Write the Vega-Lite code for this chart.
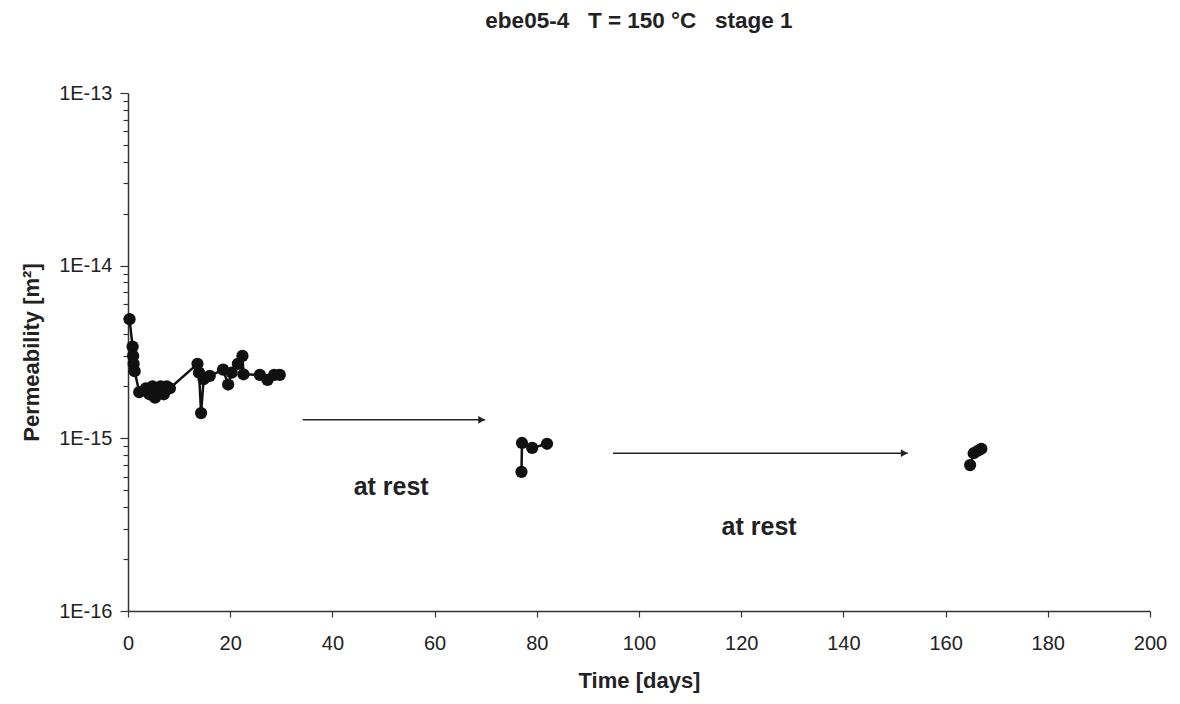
{
  "$schema": "https://vega.github.io/schema/vega-lite/v6.json",
  "autosize": {"type": "none"},
  "width": 1022,
  "height": 518,
  "padding": {"left": 128, "top": 93, "right": 30, "bottom": 93},
  "background": "white",
  "config": {
    "view": {"stroke": null},
    "font": "Liberation Sans",
    "axis": {
      "domainColor": "#333",
      "tickColor": "#333",
      "labelColor": "#222",
      "titleColor": "#222",
      "labelFont": "Liberation Sans",
      "titleFont": "Liberation Sans",
      "labelFontSize": 20,
      "titleFontSize": 22,
      "titleFontWeight": "bold",
      "grid": false,
      "domainWidth": 1.5,
      "tickWidth": 1.2
    }
  },
  "title": {
    "text": "ebe05-4\u00a0\u00a0\u00a0T = 150 °C\u00a0\u00a0\u00a0stage 1",
    "font": "Liberation Sans",
    "fontSize": 22.5,
    "fontWeight": "bold",
    "color": "#222",
    "anchor": "middle",
    "offset": 51
  },
  "datasets": {
    "perm": [
      {"day": 0.3, "k": 4.9e-15, "seg": "a"},
      {"day": 0.9, "k": 3.4e-15, "seg": "a"},
      {"day": 1.0, "k": 3.0e-15, "seg": "a"},
      {"day": 1.1, "k": 2.7e-15, "seg": "a"},
      {"day": 1.3, "k": 2.45e-15, "seg": "a"},
      {"day": 2.2, "k": 1.85e-15, "seg": "a"},
      {"day": 3.5, "k": 1.95e-15, "seg": "a"},
      {"day": 4.2, "k": 1.8e-15, "seg": "a"},
      {"day": 4.8, "k": 2.0e-15, "seg": "a"},
      {"day": 5.3, "k": 1.72e-15, "seg": "a"},
      {"day": 5.8, "k": 1.9e-15, "seg": "a"},
      {"day": 6.4, "k": 2.0e-15, "seg": "a"},
      {"day": 7.0, "k": 1.8e-15, "seg": "a"},
      {"day": 7.6, "k": 2.0e-15, "seg": "a"},
      {"day": 8.2, "k": 1.95e-15, "seg": "a"},
      {"day": 13.6, "k": 2.7e-15, "seg": "a"},
      {"day": 13.9, "k": 2.4e-15, "seg": "a"},
      {"day": 14.3, "k": 1.4e-15, "seg": "a"},
      {"day": 14.8, "k": 2.2e-15, "seg": "a"},
      {"day": 16.0, "k": 2.3e-15, "seg": "a"},
      {"day": 18.6, "k": 2.5e-15, "seg": "a"},
      {"day": 19.6, "k": 2.05e-15, "seg": "a"},
      {"day": 20.3, "k": 2.4e-15, "seg": "a"},
      {"day": 21.5, "k": 2.7e-15, "seg": "a"},
      {"day": 22.4, "k": 3.0e-15, "seg": "a"},
      {"day": 22.6, "k": 2.35e-15, "seg": "a"},
      {"day": 25.8, "k": 2.33e-15, "seg": "a"},
      {"day": 27.3, "k": 2.18e-15, "seg": "a"},
      {"day": 28.6, "k": 2.33e-15, "seg": "a"},
      {"day": 29.7, "k": 2.33e-15, "seg": "a"},
      {"day": 77.0, "k": 6.4e-16, "seg": "b"},
      {"day": 77.1, "k": 9.4e-16, "seg": "b"},
      {"day": 79.1, "k": 8.8e-16, "seg": "b"},
      {"day": 82.0, "k": 9.3e-16, "seg": "b"},
      {"day": 164.8, "k": 7.0e-16, "seg": "c"},
      {"day": 165.5, "k": 8.2e-16, "seg": "c"},
      {"day": 166.4, "k": 8.5e-16, "seg": "c"},
      {"day": 167.0, "k": 8.7e-16, "seg": "c"}
    ],
    "arrows": [
      {"start": 34.2, "end": 69.9, "head": 69.2, "k": 1.28e-15},
      {"start": 94.9, "end": 152.6, "head": 151.9, "k": 8.2e-16}
    ],
    "notes": [
      {"day": 51.5, "k": 5.2e-16, "label": "at rest"},
      {"day": 123.5, "k": 3.07e-16, "label": "at rest"}
    ]
  },
  "layer": [
    {
      "data": {"name": "perm"},
      "mark": {"type": "line", "color": "#111", "strokeWidth": 2.5},
      "encoding": {
        "x": {
          "field": "day", "type": "quantitative",
          "scale": {"domain": [0, 200], "nice": false},
          "axis": {
            "title": "Time [days]",
            "values": [0, 20, 40, 60, 80, 100, 120, 140, 160, 180, 200],
            "tickSize": 6,
            "labelPadding": 16,
            "titlePadding": 17,
            "labelFlush": false
          }
        },
        "y": {
          "field": "k", "type": "quantitative",
          "scale": {"type": "log", "domain": [1e-16, 1e-13], "nice": false},
          "axis": {
            "title": "Permeability [m²]",
            "values": [1e-16, 2e-16, 3e-16, 4e-16, 5e-16, 6e-16, 7e-16, 8e-16, 9e-16,
                       1e-15, 2e-15, 3e-15, 4e-15, 5e-15, 6e-15, 7e-15, 8e-15, 9e-15,
                       1e-14, 2e-14, 3e-14, 4e-14, 5e-14, 6e-14, 7e-14, 8e-14, 9e-14, 1e-13],
            "labelExpr": "abs(log(datum.value)/LN10 - round(log(datum.value)/LN10)) < 0.01 ? '1E' + round(log(datum.value)/LN10) : ''",
            "labelOverlap": false,
            "labelFlush": false,
            "tickSize": {"condition": {"test": "abs(log(datum.value)/LN10 - round(log(datum.value)/LN10)) < 0.01", "value": 8}, "value": 5},
            "labelPadding": 8,
            "titlePadding": 15
          }
        },
        "detail": {"field": "seg"}
      }
    },
    {
      "data": {"name": "perm"},
      "mark": {"type": "point", "filled": true, "color": "#111", "opacity": 1, "size": 150},
      "encoding": {
        "x": {"field": "day", "type": "quantitative"},
        "y": {"field": "k", "type": "quantitative"}
      }
    },
    {
      "data": {"name": "arrows"},
      "mark": {"type": "rule", "color": "#222", "strokeWidth": 1.6},
      "encoding": {
        "x": {"field": "start", "type": "quantitative"},
        "x2": {"field": "end"},
        "y": {"field": "k", "type": "quantitative"}
      }
    },
    {
      "data": {"name": "arrows"},
      "mark": {"type": "point", "shape": "triangle-right", "filled": true, "color": "#222", "opacity": 1, "size": 60},
      "encoding": {
        "x": {"field": "head", "type": "quantitative"},
        "y": {"field": "k", "type": "quantitative"}
      }
    },
    {
      "data": {"name": "notes"},
      "mark": {"type": "text", "font": "Liberation Sans", "fontSize": 25, "fontWeight": "bold", "color": "#222"},
      "encoding": {
        "x": {"field": "day", "type": "quantitative"},
        "y": {"field": "k", "type": "quantitative"},
        "text": {"field": "label"}
      }
    }
  ]
}
